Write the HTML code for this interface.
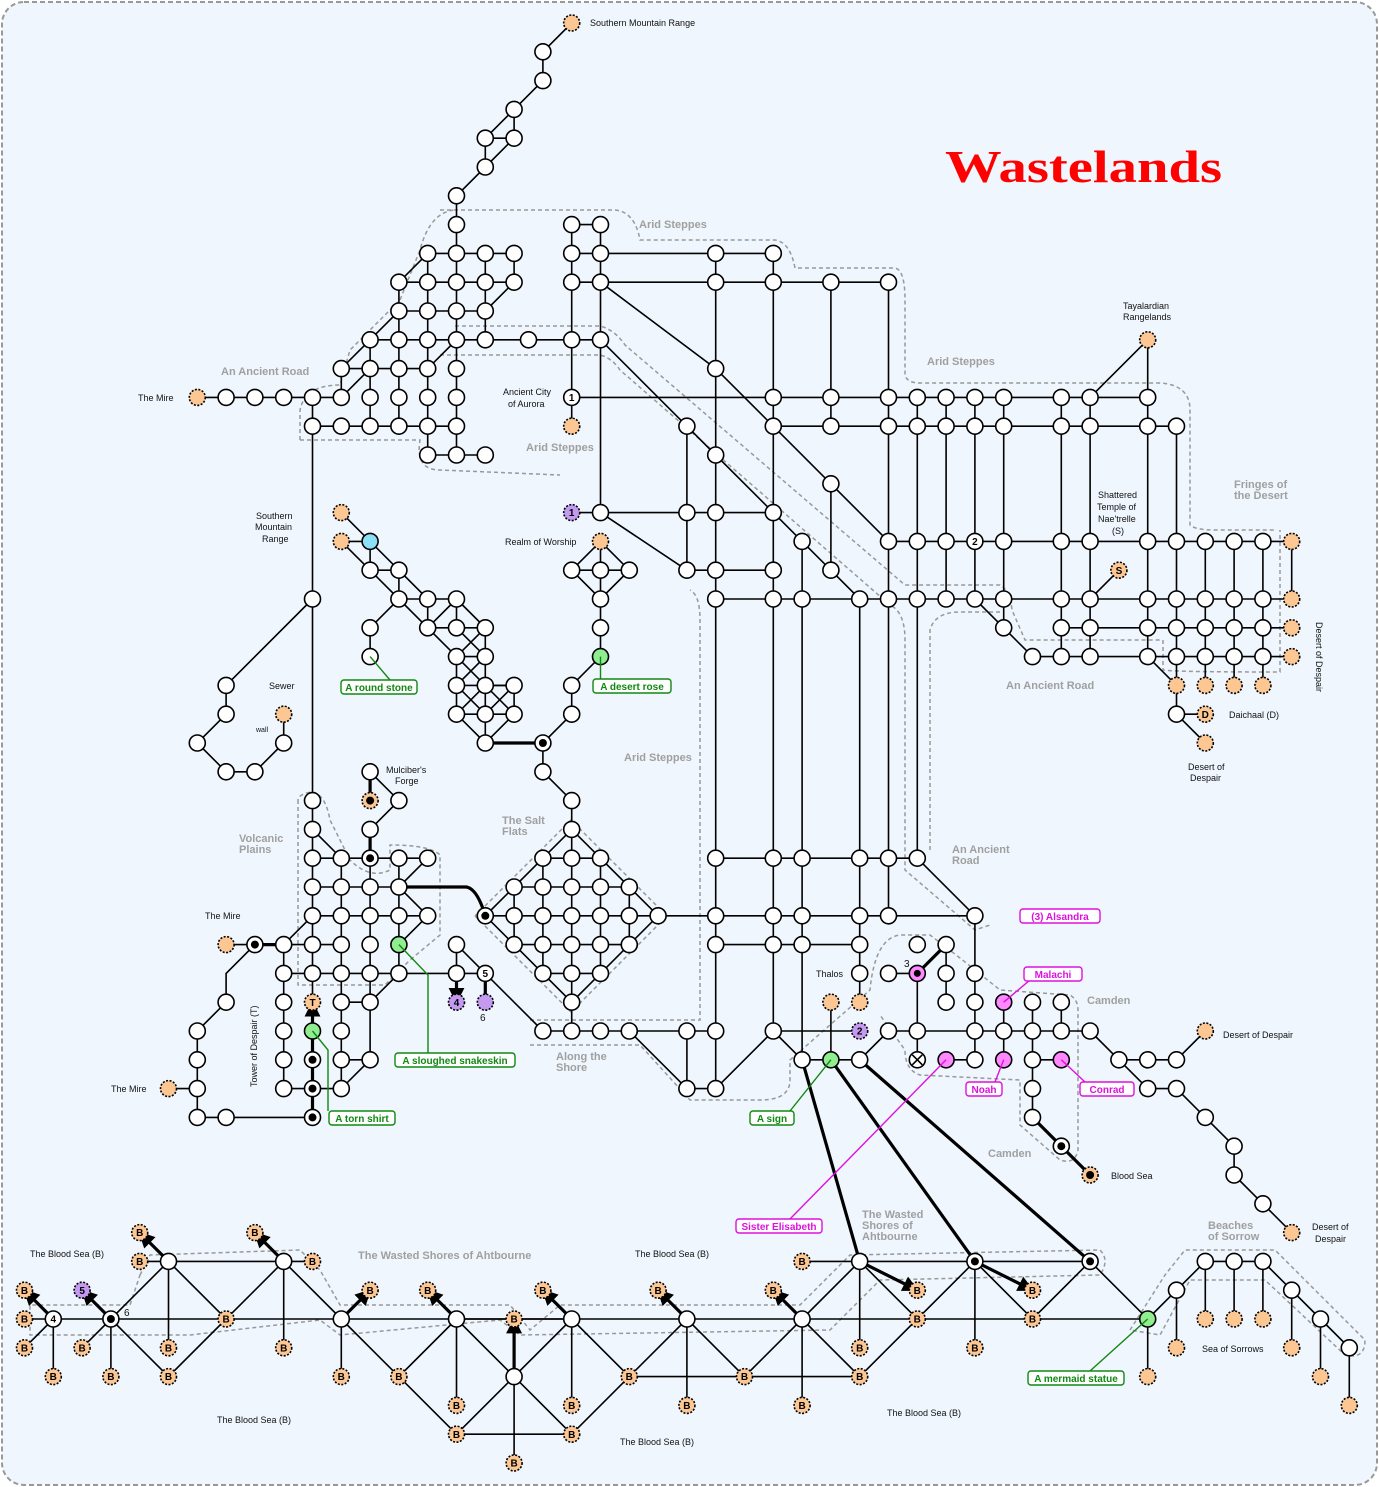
<!DOCTYPE html>
<html><head><meta charset="utf-8">
<style>
html,body{margin:0;padding:0;background:#fff;}
svg{display:block;font-family:"Liberation Sans",sans-serif;}
.lb{font-size:9px;fill:#111;}
.gr{font-size:11px;font-weight:bold;fill:#a0a0a0;}
.nt{font-size:10px;font-weight:bold;text-anchor:middle;fill:#000;}
</style></head>
<body>
<svg id="s" width="1379" height="1487" viewBox="0 0 1379 1487" xmlns="http://www.w3.org/2000/svg">
<defs>
<marker id="ar" viewBox="0 0 10 10" refX="9" refY="5" markerWidth="5" markerHeight="5" orient="auto-start-reverse"><path d="M0,0 L10,5 L0,10 z" fill="#000"/></marker>
<marker id="ar2" viewBox="0 0 10 10" refX="9" refY="5" markerWidth="4" markerHeight="4" orient="auto"><path d="M0,0 L10,5 L0,10 z" fill="#000"/></marker>
</defs>
<rect x="2" y="2" width="1375" height="1483" rx="22" fill="#eff6fd" stroke="#999" stroke-width="2" stroke-dasharray="5,3"/>
<g id="reg" fill="none" stroke="#999" stroke-width="1.5" stroke-dasharray="4,3">
<path d="M440,210 L615,210 Q635,212 640,240 L775,240 Q790,242 795,268 L895,268 Q905,270 905,300 L905,375 Q907,383 920,383 L1160,383 Q1190,385 1190,410 L1190,525 Q1195,530 1215,530 L1275,530"/>
<path d="M455,326 L600,326 Q615,330 625,345 L905,585 L1000,585 Q1010,590 1012,610 L1025,640 L1160,640"/>
<path d="M440,355 L600,355 Q612,358 620,370 L890,605 Q905,612 905,640 L905,870 L975,930 L990,925"/>
<path d="M300,440 L300,410 Q305,385 340,385 L350,350 L400,300 L420,250 Q430,212 455,210"/>
<path d="M300,440 L420,440 Q415,470 440,470 L560,475"/>
<path d="M930,850 L930,630 Q935,612 960,612 L1000,612"/>
<path d="M1163,640 L1163,670 Q1175,672 1280,672 L1280,530"/>
<path d="M298,800 L298,985 L385,985 Q395,975 410,960 L440,935 L440,855 Q430,845 390,845 L390,870 Q370,880 350,860 L330,820 Q325,792 310,792 Q298,795 298,800"/>
<path d="M475,916 L571,820 L667,916 L571,1012 Z" stroke-linejoin="round"/>
<path d="M530,1020 L700,1020 L700,620 Q700,595 690,590"/>
<path d="M530,1045 L640,1045 L690,1100 L760,1100 Q790,1100 790,1080 L790,1060 L870,990 Q875,938 900,935 L930,935 L960,958 L1000,990 L1070,995 Q1078,1000 1078,1010 L1078,1150 Q1075,1165 1060,1160 L1020,1125 L1020,1080 L920,1075 Q905,1070 905,1050 L880,1015"/>
<path d="M140,1275 L150,1255 L300,1250 L320,1270 L340,1305 L510,1305 L530,1330 L560,1305 L800,1305 L850,1255 L1100,1250 Q1110,1260 1100,1275 L880,1280 L830,1330 L520,1335 L500,1320 L340,1335 L320,1320 L190,1335 L30,1335 L30,1305 L130,1305 Z"/>
<path d="M1130,1330 L1165,1275 L1185,1250 L1275,1250 L1365,1340 Q1365,1360 1345,1355 L1265,1280 L1190,1280 L1160,1335 Z"/>
</g>
<g id="E" fill="none" stroke="#000" stroke-width="1.6"></g>
<g id="N"></g>
<text x="945" y="182" font-family="Liberation Serif,serif" font-weight="bold" font-size="46" fill="#f00" textLength="277" lengthAdjust="spacingAndGlyphs">Wastelands</text>
<g class="gr">
<text x="639" y="228">Arid Steppes</text>
<text x="221" y="375">An Ancient Road</text>
<text x="927" y="365">Arid Steppes</text>
<text x="526" y="451">Arid Steppes</text>
<text x="1234" y="488">Fringes of</text><text x="1234" y="499">the Desert</text>
<text x="1006" y="689">An Ancient Road</text>
<text x="624" y="761">Arid Steppes</text>
<text x="502" y="824">The Salt</text><text x="502" y="835">Flats</text>
<text x="239" y="842">Volcanic</text><text x="239" y="853">Plains</text>
<text x="952" y="853">An Ancient</text><text x="952" y="864">Road</text>
<text x="1087" y="1004">Camden</text>
<text x="556" y="1060">Along the</text><text x="556" y="1071">Shore</text>
<text x="988" y="1157">Camden</text>
<text x="358" y="1259">The Wasted Shores of Ahtbourne</text>
<text x="862" y="1218">The Wasted</text><text x="862" y="1229">Shores of</text><text x="862" y="1240">Ahtbourne</text>
<text x="1208" y="1229">Beaches</text><text x="1208" y="1240">of Sorrow</text>
</g>
<g class="lb">
<text x="590" y="26">Southern Mountain Range</text>
<text x="138" y="401">The Mire</text>
<text x="503" y="395">Ancient City</text><text x="508" y="407">of Aurora</text>
<text x="1123" y="309">Tayalardian</text><text x="1123" y="320">Rangelands</text>
<text x="256" y="519">Southern</text><text x="255" y="530">Mountain</text><text x="262" y="542">Range</text>
<text x="505" y="545">Realm of Worship</text>
<text x="1098" y="498">Shattered</text><text x="1097" y="510">Temple of</text><text x="1098" y="522">Nae'trelle</text><text x="1112" y="534">(S)</text>
<text x="269" y="689">Sewer</text>
<text x="256" y="732" font-size="7">wall</text>
<text x="1229" y="718">Daichaal (D)</text>
<text x="1188" y="770">Desert of</text><text x="1190" y="781">Despair</text>
<text transform="translate(1316,622) rotate(90)">Desert of Despair</text>
<text x="386" y="773">Mulciber's</text><text x="395" y="784">Forge</text>
<text x="205" y="919">The Mire</text>
<text x="816" y="977">Thalos</text>
<text x="111" y="1092">The Mire</text>
<text transform="translate(257,1087) rotate(-90)">Tower of Despair (T)</text>
<text x="1223" y="1038">Desert of Despair</text>
<text x="1111" y="1179">Blood Sea</text>
<text x="1312" y="1230">Desert of</text><text x="1315" y="1242">Despair</text>
<text x="30" y="1257">The Blood Sea (B)</text>
<text x="635" y="1257">The Blood Sea (B)</text>
<text x="1202" y="1352">Sea of Sorrows</text>
<text x="217" y="1423">The Blood Sea (B)</text>
<text x="887" y="1416">The Blood Sea (B)</text>
<text x="620" y="1445">The Blood Sea (B)</text>
<text x="124" y="1316" font-size="10">6</text>
<text x="480" y="1021" font-size="10">6</text>
<text x="904" y="967" font-size="10">3</text>
</g>
<g id="A"></g>
</svg>
<script>
(function(){
var X=function(c){return 24.5+28.8*c}, Y=function(r){return 23+28.8*r};
var NS="http://www.w3.org/2000/svg";
var E=document.getElementById('E'),Ng=document.getElementById('N'),Ag=document.getElementById('A');
function el(t,a,p){var e=document.createElementNS(NS,t);for(var k in a)e.setAttribute(k,a[k]);(p||E).appendChild(e);return e;}
function pts(s){return s.trim().split(/\s+/).map(function(q){var a=q.split(',').map(Number);return X(a[0])+','+Y(a[1]);}).join(' ');}
function L(s,opt){s.split(';').forEach(function(p){if(!p.trim())return;var a={points:pts(p)};if(opt){for(var k in opt)a[k]=opt[k];}el('polyline',a);});}
function hl(r,a,b){L(a+','+r+' '+b+','+r);} function vl(c,a,b){L(c+','+a+' '+c+','+b);}
var T={'stroke-width':3.2}, AR={'marker-end':'url(#ar2)'}, TA={'stroke-width':3.2,'marker-end':'url(#ar)'};
L("19,0 18,1 18,2 17,3 16,4 16,5 15,6 15,15;17,3 17,4 16,5;16,4 17,4");
hl(8,14,17);hl(9,13,17);hl(10,13,16);hl(11,12,20);hl(12,11,14);hl(13,6,11);hl(14,10,15);hl(15,14,16);
vl(14,8,15);vl(13,9,14);vl(16,8,11);vl(17,8,9);vl(12,11,14);vl(11,12,13);
L("14,8 13,9;17,9 16,10;13,10 12,11 11,12;12,12 11,13;15,11 14,12");
vl(10,13,38);
L("10,20 7,23 7,24 6,25 7,26 8,26 9,25 9,24");
vl(19,7,14);vl(20,7,17);hl(7,19,20);hl(8,19,26);hl(9,19,30);
L("19,17 20,17",{'marker-start':'url(#ar2)'});
hl(17,20,26);
L("20,9 24,12 26,14 28,16 30,18;20,11 23,14 24,15 26,17 27,18 28,19 29,20;20,17 23,19");
vl(23,14,19);hl(19,23,26);
vl(24,8,37);vl(26,8,35);vl(28,9,14);vl(28,16,19);vl(30,9,31);vl(27,18,36);
hl(13,19,39);hl(14,26,40);hl(18,30,44);hl(20,24,44);hl(21,36,44);hl(22,35,44);
vl(31,13,20);vl(32,13,20);vl(33,13,20);vl(34,13,21);vl(36,13,22);vl(37,13,22);vl(39,11,22);vl(40,14,24);
vl(41,18,23);vl(42,18,23);vl(43,18,23);vl(44,18,20);
L("33,20 34,21 35,22;38,19 37,20;37,13 39,11;39,22 40,23;40,24 41,25");
L("40,24 41,24",AR);
L("11,17 12,18 12,19 13,20 12,21 12,22;11,18 12,18 13,19 13,20 14,20 15,20;11,18 12,19 13,19 14,20 14,21;13,20 14,21 15,22;15,20 14,21 15,21 16,21;15,20 15,21 16,22;15,20 16,21 15,22;16,21 16,22;15,22 16,22;15,22 15,24;16,22 16,25;15,22 16,23 17,24;16,22 15,23 16,24;15,23 17,23;15,24 17,24;17,23 17,24;16,23 17,23;17,23 16,24;15,24 16,25 17,24;16,23 15,24");
L("16,25 18,25",T);
L("18,25 19,24 19,23 20,22 20,18;19,19 20,18 21,19 20,20 19,19 21,19;18,25 18,26 19,27 19,28");
for(var dr=-3;dr<=3;dr++){var w=0;if(Math.abs(dr)==2)w=1;if(Math.abs(dr)==1)w=2;if(dr==0)w=3;
 if(w>0)hl(31+dr,19-w,19+w);}
vl(19,28,35);vl(18,29,33);vl(20,29,33);vl(17,30,32);vl(21,30,32);
L("19,28 18,29 17,30 16,31 17,32 18,33 19,34 20,33 21,32 22,31 21,30 20,29 19,28");
L("12,26 12,27;12,28 12,29",T);
L("12,26 13,27 12,28;10,28 11,29");
hl(29,10,14);hl(30,10,13);hl(31,10,14);hl(32,8,11);hl(33,9,13);L("13,33 15,33 16,33");hl(34,11,12);hl(36,11,12);hl(37,9,11);
L("7,32 8,32");L("8,32 9,32",T);
vl(11,29,37);vl(12,29,36);vl(13,29,33);vl(9,32,37);
L("13,30 14,29;13,30 14,31;13,32 14,31;9,32 10,31;12,34 13,33;12,36 11,37;15,32 15,33;15,32 16,33 18,35");
L("15,33 15,34",TA);L("16,33 16,34",T);
L("10,35 10,34",TA);L("10,35 10,38",T);
L("8,32 7,33 7,34 6,35 6,38 7,38 10,38;5,37 6,37");
el('path',{d:'M'+X(13)+','+Y(30)+' L'+(X(15)+10)+','+Y(30)+' Q'+(X(16)-8)+','+(Y(30)+2)+' '+X(16)+','+Y(31),'stroke-width':3.2});
hl(35,18,24);L("21,35 23,37 24,37 26,35;23,35 23,37;26,35 27,36 29,36 30,35");
L("26,35 29,35",AR);
hl(29,24,31);hl(31,22,33);hl(32,24,29);vl(29,20,34);vl(31,20,29);L("31,29 33,31");vl(33,31,36);
L("28,34 28,36");
L("30,33 31,33");L("31,33 32,32",T);vl(31,33,35);L("31,35 31,36");vl(32,32,34);
hl(35,30,37);hl(36,32,33);vl(34,34,36);vl(35,34,38);L("35,36 36,36");vl(36,34,35);
L("35,38 36,39 37,40",T);
L("37,35 38,36 40,36 41,35;38,36 39,37 40,37 41,38 42,39 42,40 43,41 44,42");
L("27,36 29,43;28,36 33,43;29,36 37,43",T);
hl(45,1,39);hl(43,5,9);hl(43,29,37);
L("1,45 0,44;3,45 2,44;5,43 4,42;9,43 8,42;11,45 12,44;15,45 14,44;19,45 18,44;23,45 22,44;27,45 26,44;29,43 31,44;33,43 35,44",TA);
L("1,45 0,45;1,45 0,46;1,45 1,47;3,45 3,47;5,43 5,46;9,43 9,46;5,43 4,43;9,43 10,43;11,45 11,47;15,45 15,48;19,45 19,48;23,45 23,48;27,45 27,48;29,43 29,46;33,43 33,46;29,43 27,43;15,45 17,45;19,45 17,45;17,47 17,50;39,45 39,47;40,44 40,46;41,43 41,45;42,43 42,45;43,43 43,45;44,44 44,46;45,45 45,47;46,46 46,48",AR);
L("17,47 17,45",TA);
L("3,45 2,46;3,45 5,43 7,45 9,43 11,45;3,45 5,47 7,45;11,45 13,47 15,45 17,47 19,45 21,47 23,45 25,47 27,45 29,47 31,45;13,47 15,49 19,49 21,47;15,49 17,47 19,49;21,47 29,47;27,45 29,43 31,45 33,43 35,45 37,43 39,45;39,45 40,44 41,43 43,43 44,44 45,45 46,46");
var R={0:"19o",1:"18",2:"18",3:"17",4:"16 17",5:"16",6:"15",7:"15 19 20",
8:"14 15 16 17 19 20 24 26",9:"13 14 15 16 17 19 20 24 26 28 30",10:"13 14 15 16",
11:"12 13 14 15 16 17.5 19 20 39o",12:"11 12 13 14 15 24",
13:"6o 7 8 9 10 11 12 13 14 15 19 26 28 30 31 32 33 34 36 37 39",
14:"10 11 12 13 14 15 19o 23 26 28 30 31 32 33 34 36 37 39 40",
15:"14 15 16 24",16:"28",
17:"11o 19u 20 23 24 26",
18:"11o 12c 20o 27 30 31 32 33 34 36 37 39 40 41 42 43 44o",
19:"12 13 19 20 21 23 24 26 28 38o",
20:"10 13 14 15 20 24 26 27 29 30 31 32 33 34 36 37 39 40 41 42 43 44o",
21:"12 14 15 16 20 34 36 37 39 40 41 42 43 44o",
22:"12 15 16 20g 35 36 37 39 40 41 42 43 44o",
23:"7 15 16 17 19 40o 41o 42o 43o",24:"7 9o 15 16 17 19 40 41o",25:"6 9 16 18b 41o",
26:"7 8 12 18",27:"10 12q 13 19",28:"10 12 19",
29:"10 11 12b 13 14 18 19 20 24 26 27 29 30 31",
30:"10 11 12 13 17 18 19 20 21",
31:"10 11 12 13 14 16b 17 18 19 20 21 22 24 26 27 29 30 33",
32:"7o 8b 9 10 11 12 13g 15 17 18 19 20 21 24 26 27 29 31 32",
33:"9 10 11 12 13 15 16 18 19 20 29 30 31p 32 33",
34:"7 9 10o 11 12 15u 16u 19 28o 29o 32 33 34p 35 36",
35:"6 9 10g 11 18 19 20 21 23 24 26 29u 30 31 33 34 35 36 37 41o",
36:"6 9 10b 11 12 27 28g 29 31x 32p 33 34p 35 36p 38 39 40",
37:"5o 6 9 10b 11 23 24 35 39 40",38:"6 7 10b 35 41",
39:"36b 42",40:"37q 42",41:"43",42:"4B 8B 44o",
43:"4B 5 9 10B 27B 29 33b 37b 41 42 43",
44:"0B 2u 12B 14B 18B 22B 26B 31B 35B 40 44",
45:"0B 1 3b 7B 11 15 17B 19 23 27 31B 35B 39g 41o 42o 43o 45",
46:"0B 2B 5B 9B 29B 33B 40o 44o 46",
47:"1B 3B 5B 11B 13B 17 21B 25B 29B 39o 45o",
48:"15B 19B 23B 27B 46o",49:"15B 19B",50:"17B"};
var LBL={"19,13":"1","19,17":"1","33,18":"2","38,19":"S","41,24":"D","10,34":"T","16,33":"5","15,34":"4","29,35":"2","1,45":"4","2,44":"5"};
for(var r in R){R[r].split(' ').forEach(function(t){var m=t.match(/^([\d.]+)([a-zA-Z]?)$/);var c=+m[1],ty=m[2]||'w';var x=X(c),y=Y(+r);
 var fill='#fff',dash=null;
 if(ty=='o'||ty=='B'||ty=='q'){fill='#fdc793';dash='2,1.5';}
 if(ty=='g')fill='#90ee90';if(ty=='p')fill='#ff88ff';if(ty=='u'){fill='#c39af0';dash='2,1.5';}if(ty=='c')fill='#8ddff5';
 var a={cx:x,cy:y,r:8,fill:fill,stroke:'#000','stroke-width':1.6};if(dash)a['stroke-dasharray']=dash;el('circle',a,Ng);
 if(ty=='b'||ty=='q')el('circle',{cx:x,cy:y,r:4,fill:'#000'},Ng);
 if(ty=='x'){el('path',{d:'M'+(x-5)+','+(y-5)+'L'+(x+5)+','+(y+5)+'M'+(x+5)+','+(y-5)+'L'+(x-5)+','+(y+5),stroke:'#000','stroke-width':1.6},Ng);}
 var lb=ty=='B'?'B':LBL[c+','+r];
 if(lb){var tx=el('text',{x:x,y:y+3.6,'class':'nt'},Ng);tx.textContent=lb;}
});}
el('circle',{cx:X(31),cy:Y(33),r:3.5,fill:'#000'},Ng);
function box(x,y,w,txt,col,lx1,ly1,lx2,ly2){
 if(lx1)el('polyline',{points:lx1+','+ly1+' '+lx2+','+ly2,fill:'none',stroke:col,'stroke-width':1.4},Ag);
 el('rect',{x:x-w/2,y:y-7,width:w,height:14,rx:3,fill:'#fff',stroke:col,'stroke-width':1.4},Ag);
 var t=el('text',{x:x,y:y+4,'text-anchor':'middle','font-size':10,'font-weight':'bold',fill:col},Ag);t.textContent=txt;}
var G='#118811',P='#dd11dd';
box(379,687,76,'A round stone',G,X(12),Y(22),390,680);
box(632,686,78,'A desert rose',G,X(20),Y(22),X(20),680);
el('polyline',{points:X(13)+','+Y(32)+' 428,975 428,1053',fill:'none',stroke:G,'stroke-width':1.4},Ag);
box(455,1060,120,'A sloughed snakeskin',G,0,0,0,0);
el('polyline',{points:X(10)+','+Y(35)+' 328,1050 328,1111',fill:'none',stroke:G,'stroke-width':1.4},Ag);
box(362,1118,66,'A torn shirt',G,0,0,0,0);
box(772,1118,44,'A sign',G,X(28),Y(36),790,1111);
box(1076,1378,96,'A mermaid statue',G,X(39),Y(45),1090,1371);
box(1060,916,80,'(3) Alsandra',P,0,0,0,0);
box(1053,974,58,'Malachi',P,X(34),Y(34),1030,980);
box(984,1089,36,'Noah',P,X(34),Y(36),995,1082);
box(1107,1089,54,'Conrad',P,X(36),Y(36),1085,1082);
box(779,1226,86,'Sister Elisabeth',P,X(32),Y(36),790,1219);
})();
</script>
</body></html>
